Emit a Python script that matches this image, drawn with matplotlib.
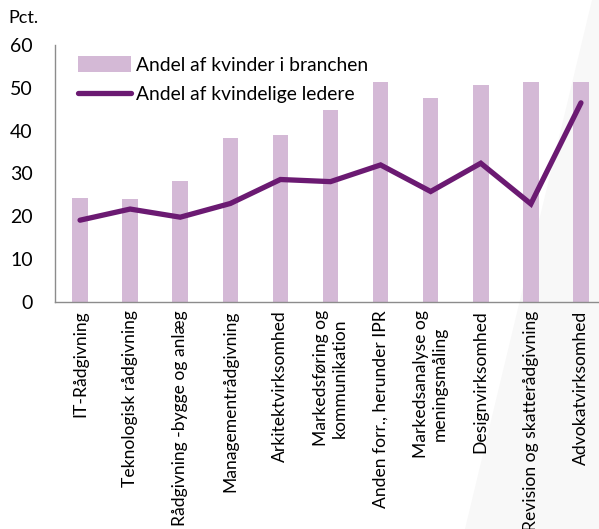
import matplotlib.pyplot as plt
import numpy as np
from matplotlib.patches import Polygon

plt.rcParams['font.family'] = ['Lato', 'DejaVu Sans']

brancher = ["IT-Rådgivning", "Teknologisk rådgivning", "Rådgivning -bygge og anlæg",
            "Managementrådgivning", "Arkitektvirksomhed", "Markedsføring og\nkommunikation",
            "Anden forr., herunder IPR", "Markedsanalyse og\nmeningsmåling",
            "Designvirksomhed", "Revision og skatterådgivning", "Advokatvirksomhed"]
andel_kvinder = [24.3, 24.0, 28.3, 38.4, 39.0, 44.9, 51.4, 47.6, 50.7, 51.4, 51.4]
andel_ledere = [19.1, 21.7, 19.8, 23.0, 28.6, 28.1, 32.0, 25.8, 32.4, 22.9, 46.5]

bar_color = "#D4B9D6"
line_color = "#6B1A72"

fig = plt.figure(figsize=(5.99, 5.29), dpi=100)

# faint slide background shape on the right, behind everything
bg_ax = fig.add_axes([0, 0, 1, 1], zorder=-1)
bg_ax.set_axis_off()
bg_ax.set_xlim(0, 1)
bg_ax.set_ylim(0, 1)
bg_ax.add_patch(Polygon([(592 / 599, 1), (465 / 599, 0), (1, 0), (1, 1)], closed=True,
                        facecolor="#F8F8F8", edgecolor="none"))

ax = fig.add_axes([55 / 599, 227 / 529, 551 / 599, 257 / 529], zorder=1)
ax.patch.set_alpha(0)

x = np.arange(len(brancher))
bars = ax.bar(x, andel_kvinder, width=0.31, color=bar_color, label="Andel af kvinder i branchen", zorder=2)
line, = ax.plot(x, andel_ledere, color=line_color, linewidth=3.8, solid_capstyle="round",
                solid_joinstyle="miter", label="Andel af kvindelige ledere", zorder=3)

ax.set_xlim(-0.5, len(brancher) - 0.5)
ax.set_ylim(0, 60)
ax.set_yticks(range(0, 61, 10))
ax.set_xticks(x)
ax.set_xticklabels(brancher, rotation=90, fontsize=12.6, multialignment="center")
ax.tick_params(axis="y", length=0, labelsize=14, pad=16)
ax.tick_params(axis="x", length=0, pad=6)

for s in ["top", "right"]:
    ax.spines[s].set_visible(False)
for s in ["left", "bottom"]:
    ax.spines[s].set_color("#8C8C8C")
    ax.spines[s].set_linewidth(1)

ax.legend(handles=[bars, line], loc="upper left", bbox_to_anchor=(0.011, 1.025), frameon=False,
          fontsize=13.9, handlelength=2.7, handleheight=0.9, handletextpad=0.3, labelspacing=0.6)

fig.text(8 / 599, 1 - 18 / 529, "Pct.", fontsize=13, va="center", ha="left")

fig.savefig("out.png", dpi=100)
